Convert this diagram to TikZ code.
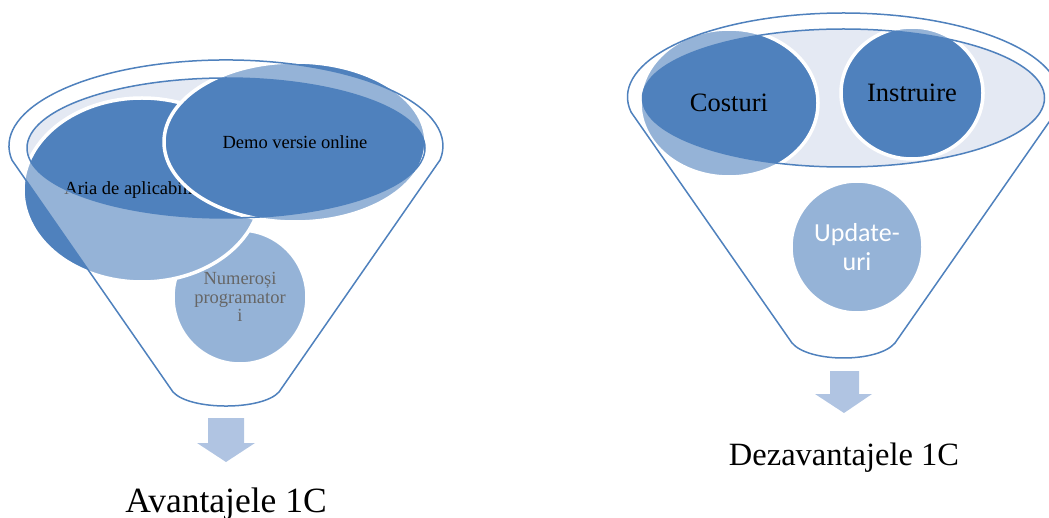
\documentclass[tikz,border=0pt]{standalone}
\usepackage{fontspec}
\setmainfont{Liberation Serif}
\newfontfamily\calibrifont{Carlito}
\usetikzlibrary{shapes.geometric}
\definecolor{acc}{RGB}{79,129,189}
\definecolor{innerfill}{RGB}{228,233,243}
\definecolor{arrowfill}{RGB}{176,196,226}
\tikzset{
  bubble/.style={shape=ellipse, fill=acc, draw=white, line width=3.5pt, inner sep=0pt, text=black, align=center},
  roundbub/.style={shape=circle, fill=acc, draw=white, line width=3.5pt, inner sep=0pt, text=black, align=center},
  front/.style={fill=white, fill opacity=0.4, even odd rule},
  outline/.style={draw=acc, line width=1.5pt, line join=round},
  backell/.style={fill=innerfill},
  downarrow/.style={fill=arrowfill},
  caption/.style={anchor=base, inner sep=0pt, text=black},
  smalltxt/.style={font=\fontsize{18.5}{18.5}\selectfont},
  bigtxt/.style={font=\fontsize{26.5}{30}\selectfont}
}
\begin{document}
\begin{tikzpicture}[x=1pt,y=-1pt]
\useasboundingbox (0,0) rectangle (1049,518);
\clip (0,0) rectangle (1049,518);

% ---------- left funnel ----------
\path[backell] (226,148) ellipse [x radius=199, y radius=70];
\node[roundbub, smalltxt, minimum size=134pt] (num) at (240,297) {Numeroși\\programator\\i};
\node[bubble, smalltxt, minimum width=238pt, minimum height=184pt] (aria) at (142,190) {Aria de aplicabilitate};
\node[bubble, smalltxt, minimum width=262pt, minimum height=160pt] (demo) at (295,142) {Demo versie online};
\path[front] (11.9,160) arc[start angle=170.6, end angle=369.4, x radius=217, y radius=86]
   -- (279,392) .. controls (262,410.7) and (190,410.7) .. (173,392) -- cycle
   (226,148) ellipse [x radius=199, y radius=70];
\path[outline] (11.9,160) arc[start angle=170.6, end angle=369.4, x radius=217, y radius=86]
   -- (279,392) .. controls (262,410.7) and (190,410.7) .. (173,392) -- cycle;
\path[outline] (226,148) ellipse [x radius=199, y radius=70];
\fill[downarrow] (208,418) -- (244,418) -- (244,443) -- (255,443) -- (226,462) -- (197,443) -- (208,443) -- cycle;
\node[caption, font=\fontsize{35.5}{40}\selectfont] (avant) at (226,512) {Avantajele 1C};

% ---------- right funnel ----------
\path[backell] (843.5,98) ellipse [x radius=201, y radius=69];
\node[bubble, bigtxt, minimum width=178pt, minimum height=148pt] (cost) at (729,103) {Costuri};
\node[bubble, bigtxt, minimum width=142pt, minimum height=132pt] (instr) at (912,93) {Instruire};
\node[roundbub, minimum size=132pt, text=white, font=\calibrifont\fontsize{26}{29}\selectfont] (upd) at (857,247) {Update-\\uri};
\path[front] (631,112) arc[start angle=169.71, end angle=370.29, x radius=216, y radius=84]
   -- (895,343) .. controls (878,363) and (809,363) .. (792,343) -- cycle
   (843.5,98) ellipse [x radius=201, y radius=69];
\path[outline] (631,112) arc[start angle=169.71, end angle=370.29, x radius=216, y radius=84]
   -- (895,343) .. controls (878,363) and (809,363) .. (792,343) -- cycle;
\path[outline] (843.5,98) ellipse [x radius=201, y radius=69];
\fill[downarrow] (830,371) -- (859,371) -- (859,394) -- (872,394) -- (844,413) -- (815,394) -- (830,394) -- cycle;
\node[caption, font=\fontsize{32.5}{36}\selectfont] (dezav) at (844,465) {Dezavantajele 1C};
\end{tikzpicture}
\end{document}
